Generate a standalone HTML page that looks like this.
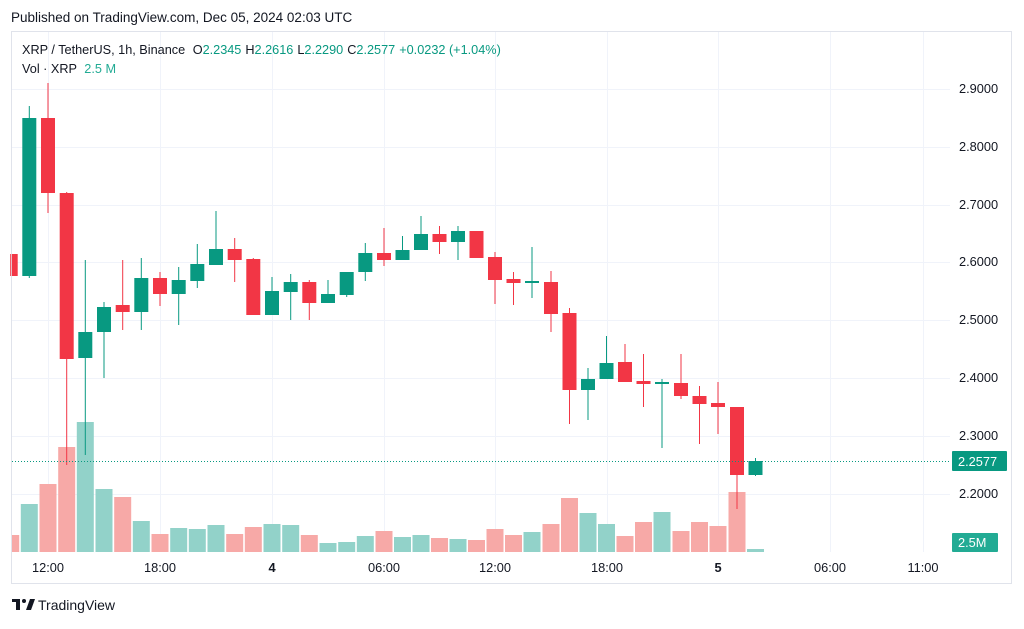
<!DOCTYPE html>
<html><head><meta charset="utf-8"><style>
body{margin:0;background:#fff;width:1024px;height:624px;overflow:hidden;font-family:"Liberation Sans",sans-serif}
</style></head><body>
<svg width="1024" height="624" xmlns="http://www.w3.org/2000/svg" font-family="Liberation Sans, sans-serif">
<rect width="1024" height="624" fill="#fff"/>
<text x="11" y="22" font-size="13.5" fill="#131722">Published on TradingView.com, Dec 05, 2024 02:03 UTC</text>
<rect x="11.5" y="31.5" width="1000" height="552" fill="#fff" stroke="#e0e3eb"/>
<g stroke="#f0f3fa" stroke-width="1">
<line x1="12" x2="950" y1="89.5" y2="89.5"/><line x1="12" x2="950" y1="147.5" y2="147.5"/><line x1="12" x2="950" y1="205.5" y2="205.5"/><line x1="12" x2="950" y1="262.5" y2="262.5"/><line x1="12" x2="950" y1="320.5" y2="320.5"/><line x1="12" x2="950" y1="378.5" y2="378.5"/><line x1="12" x2="950" y1="436.5" y2="436.5"/><line x1="12" x2="950" y1="494.5" y2="494.5"/>
<line y1="32" y2="552" x1="48.5" x2="48.5"/><line y1="32" y2="552" x1="160.5" x2="160.5"/><line y1="32" y2="552" x1="272.5" x2="272.5"/><line y1="32" y2="552" x1="384.5" x2="384.5"/><line y1="32" y2="552" x1="495.5" x2="495.5"/><line y1="32" y2="552" x1="607.5" x2="607.5"/><line y1="32" y2="552" x1="718.5" x2="718.5"/><line y1="32" y2="552" x1="830.5" x2="830.5"/><line y1="32" y2="552" x1="923.5" x2="923.5"/>
</g>
<g id="vol"></g>
<g id="cnd"></g>
<line x1="12" x2="950" y1="461.5" y2="461.5" stroke="#089981" stroke-dasharray="1,2" stroke-width="1"/>
<g font-size="12.8" fill="#131722">
<text x="959" y="93">2.9000</text><text x="959" y="151">2.8000</text><text x="959" y="209">2.7000</text><text x="959" y="266">2.6000</text><text x="959" y="324">2.5000</text><text x="959" y="382">2.4000</text><text x="959" y="440">2.3000</text><text x="959" y="498">2.2000</text>
</g>
<rect x="952" y="451" width="55" height="20" rx="1" fill="#089981"/>
<text x="958" y="466" font-size="12.8" fill="#fff">2.2577</text>
<rect x="952" y="533" width="46" height="19" rx="1" fill="#22ab94"/>
<text x="958" y="547" font-size="12.8" fill="#fff">2.5M</text>
<g font-size="12.8" fill="#131722" text-anchor="middle">
<text x="48" y="572">12:00</text><text x="160" y="572">18:00</text><text x="272" y="572" font-weight="bold">4</text><text x="384" y="572">06:00</text><text x="495" y="572">12:00</text><text x="607" y="572">18:00</text><text x="718" y="572" font-weight="bold">5</text><text x="830" y="572">06:00</text><text x="923" y="572">11:00</text>
</g>
<g font-size="12.7">
<text x="22" y="54" fill="#131722">XRP / TetherUS, 1h, Binance <tspan dx="4">O</tspan><tspan fill="#089981">2.2345</tspan><tspan dx="4">H</tspan><tspan fill="#089981">2.2616</tspan><tspan dx="4">L</tspan><tspan fill="#089981">2.2290</tspan><tspan dx="4">C</tspan><tspan fill="#089981">2.2577</tspan><tspan dx="4" fill="#089981">+0.0232 (+1.04%)</tspan></text>
<text x="22" y="73" fill="#131722">Vol · XRP <tspan dx="4" fill="#22ab94">2.5 M</tspan></text>
</g>
<g transform="translate(12,598)" fill="#131722">
<rect x="0" y="1" width="8" height="3"/><rect x="4" y="1" width="4" height="11"/>
<circle cx="12" cy="3" r="2"/><polygon points="14,12 18,1 23,1 19,12"/>
<text x="26" y="12" font-size="14">TradingView</text>
</g>
</svg>
<script>
var G="#089981",R="#f23645",GV="#92d2c9",RV="#f7a9a7";
var c=[[10.7,254,276,254,276,0],[29.3,118,276,106,278,1],[48,118,193,83,213,0],[66.7,193,359,192,465,0],[85.3,332,358,260,455,1],[104,307,332,302,378,1],[122.7,305,312,260,330,0],[141.3,278,312,258,330,1],[160,278,294,272,306,0],[178.7,280,294,267,325,1],[197.3,264,281,244,288,1],[216,249,265,211,265,1],[234.7,249,260,238,282,0],[253.3,259,315,258,315,0],[272,291,315,277,315,1],[290.7,282,292,274,320,1],[309.3,282,303,280,320,0],[328,294,303,280,303,1],[346.7,272,295,272,297,1],[365.3,253,272,243,281,1],[384,253,260,228,266,0],[402.5,250,260,236,260,1],[421,234,250,216,250,1],[439.5,234,242,226,254,0],[458,231,242,226,260,1],[476.5,231,258,231,258,0],[495,257,280,252,304,0],[513.5,279,283,272,305,0],[532,281,283,247,298,1],[551,282,314,271,332,0],[569.5,313,390,308,424,0],[588,379,390,368,420,1],[606.5,363,379,336,379,1],[625,362,382,344,382,0],[643.5,381,384,354,407,0],[662,382,384,379,448,1],[681,383,396,354,399,0],[699.5,396,404,386,444,0],[718,403,407,382,434,0],[737,407,475,407,509,0],[755.5,461,475,458,476,1]];
var v=[535,504,484,447,422,489,497,521,534,528,529,525,534,527,524,525,535,543,542,536,531,537,535,538,539,540,529,535,532,524,498,513,524,536,522,512,531,522,526,492,549];
var ns="http://www.w3.org/2000/svg";
function el(p,t,a){var e=document.createElementNS(ns,t);for(var k in a)e.setAttribute(k,a[k]);p.appendChild(e);}
var gv=document.getElementById("vol"),gc=document.getElementById("cnd");
for(var i=0;i<c.length;i++){var d=c[i],col=d[5]?G:R;
var x0=Math.max(12,d[0]-8.5);el(gv,"rect",{x:x0,y:v[i],width:d[0]+8.5-x0,height:552-v[i],fill:d[5]?GV:RV});
el(gc,"line",{x1:d[0],x2:d[0],y1:d[3],y2:d[4],stroke:col,"stroke-width":1});
var bx=Math.max(12,d[0]-7);el(gc,"rect",{x:bx,y:d[1],width:d[0]+7-bx,height:Math.max(2,d[2]-d[1]),fill:col});}
</script>
</body></html>
